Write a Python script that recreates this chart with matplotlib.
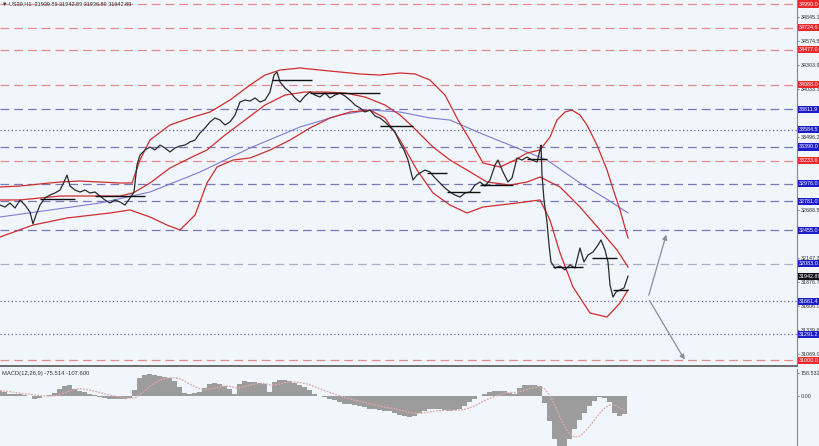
import matplotlib
matplotlib.use("Agg")
import matplotlib.pyplot as plt
from matplotlib.transforms import blended_transform_factory

plt.rcParams["font.family"] = ["Liberation Sans", "DejaVu Sans"]

# price path (hour index, price)
price_x = [0, 5, 10, 15, 20, 25, 30, 33, 36, 40, 45, 50, 55, 60, 64, 67, 70, 75, 80, 85,
           90, 95, 100, 105, 110, 115, 120, 125, 130, 134, 137, 140, 145, 150, 155, 160, 165, 170, 175, 180,
           185, 190, 195, 200, 205, 210, 215, 220, 225, 230, 235, 240, 245, 250, 255, 260, 265, 270, 274, 277,
           280, 285, 290, 295, 300, 305, 310, 315, 320, 325, 330, 335, 340, 345, 350, 355, 360, 365, 370, 375,
           380, 385, 390, 395, 400, 404, 408, 413, 417, 420, 425, 430, 435, 440, 445, 450, 455, 460, 465, 470,
           475, 480, 485, 490, 495, 498, 503, 508, 512, 517, 522, 527, 532, 537, 540, 541, 542, 544, 547, 549,
           551, 555, 560, 565, 570, 575, 580, 584, 588, 593, 598, 601, 605, 608, 610, 613, 616, 620, 624, 628]
price_y = [32739, 32717, 32762, 32706, 32795, 32739, 32661, 32527, 32627, 32739, 32818, 32851, 32874, 32907, 32997, 33075, 32952, 32907, 32885, 32907,
           32874, 32885, 32840, 32795, 32762, 32795, 32773, 32739, 32818, 32885, 33188, 33299, 33356, 33389, 33356, 33411, 33378, 33333, 33378, 33400,
           33411, 33445, 33467, 33546, 33602, 33669, 33714, 33691, 33636, 33669, 33747, 33893, 33915, 33904, 33938, 33893, 33915, 34005, 34195, 34229,
           34117, 34050, 34005, 33938, 33893, 33960, 34005, 33971, 33949, 33994, 33938, 33971, 33994, 33960, 33915, 33859, 33826, 33781, 33803, 33736,
           33714, 33669, 33613, 33557, 33434, 33355, 33243, 33019, 33075, 33098, 33131, 33109, 33042, 32986, 32930, 32885, 32851, 32829, 32874, 32885,
           32963, 32997, 32952, 33019, 33187, 33243, 33109, 32997, 33042, 33266, 33243, 33277, 33243, 33221, 33355, 33411, 33075, 32796, 32549, 32292,
           32101, 32034, 32056, 32012, 32068, 32034, 32258, 32101, 32179, 32213, 32291, 32348, 32235, 32101, 31843, 31709, 31765, 31787, 31810, 31942.89]

# bollinger bands
bb_up_x = [0, 20, 40, 60, 80, 100, 120, 132, 140, 150, 170, 190, 210, 230, 250, 265, 280, 300, 320, 340,
           360, 380, 400, 415, 430, 445, 458, 470, 483, 500, 515, 527, 540, 550, 557, 565, 572, 580, 587, 597,
           607, 615, 620, 628]
bb_up = [32941, 32952, 32975, 32997, 33008, 32997, 32986, 32986, 33244, 33468, 33636, 33714, 33781, 33915, 34083, 34195, 34251, 34274, 34251, 34229,
         34207, 34195, 34218, 34207, 34139, 33971, 33692, 33467, 33210, 33165, 33243, 33322, 33355, 33501, 33691, 33781, 33803, 33747, 33635, 33411,
         33131, 32852, 32683, 32370]
bb_mid_x = [0, 20, 40, 60, 80, 100, 120, 133, 150, 170, 190, 207, 225, 245, 265, 285, 305, 325, 345, 365,
            385, 400, 413, 433, 450, 467, 487, 510, 527, 540, 560, 580, 600, 617, 628]
bb_mid = [32796, 32796, 32818, 32840, 32840, 32840, 32840, 32874, 32986, 33154, 33266, 33356, 33523, 33691, 33859, 33971, 34005, 34005, 33994, 33949,
          33859, 33747, 33613, 33389, 33243, 33131, 32997, 32963, 32997, 33053, 32941, 32717, 32460, 32236, 32045]
bb_low_x = [0, 33, 67, 110, 130, 150, 167, 180, 195, 207, 217, 233, 250, 270, 290, 310, 330, 350, 370, 385,
            400, 417, 433, 450, 467, 483, 500, 517, 540, 550, 560, 573, 590, 607, 620, 628]
bb_low = [32381, 32515, 32594, 32650, 32684, 32605, 32515, 32460, 32627, 32986, 33165, 33243, 33266, 33355, 33467, 33602, 33714, 33781, 33803, 33714,
          33467, 33131, 32874, 32739, 32650, 32717, 32739, 32762, 32796, 32571, 32202, 31821, 31530, 31485, 31642, 31787]

# slow moving average
ma_x = [0, 50, 100, 150, 200, 250, 300, 340, 370, 400, 430, 450, 480, 517, 547, 580, 605, 628]
ma = [32605, 32683, 32762, 32885, 33109, 33378, 33613, 33747, 33803, 33781, 33714, 33691, 33546, 33378, 33243, 32986, 32818, 32650]

# short black pivot segments
seg_start = [40, 95, 272, 310, 380, 427, 447, 480, 527, 553, 592, 613]
seg_end = [75, 145, 312, 380, 413, 447, 480, 513, 547, 583, 617, 628]
seg_price = [32807, 32840, 34140, 33994, 33624, 33098, 32885, 32963, 33255, 32045, 32146, 31787]

# horizontal levels
levels = [34990.0, 34724.6, 34477.0, 34088.0, 33811.9, 33584.5, 33390.0, 33233.6,
          32976.0, 32781.0, 32455.0, 32083.0, 31661.4, 31291.2, 31000.0]
level_labels = ["34990.0", "34724.6", "34477.0", "34088.0", "33811.9", "33584.5", "33390.0", "33233.6",
                "32976.0", "32781.0", "32455.0", "32083.0", "31661.4", "31291.2", "31000.0"]
level_kind = ["r", "r", "r", "r", "b", "bd", "b", "r", "b", "b", "b", "g", "bd", "bd", "r"]

price_ticks = [34845.1, 34574.5, 34303.9, 34033.3, 33496.2, 32688.5, 32147.3, 31876.7, 31606.0, 31339.6, 31069.0]
last_price = 31942.89

# projection arrows
arrow_from = (648, 31698)
arrow_up = (667, 32437)
arrow_down = (686, 30981)

# MACD
macd_x = list(range(0, 630, 5))
macd_hist = [30, 25, 15, 10, 12, 8, 0, -20, -15, 0, 5, 20, 45, 70, 72, 50, 35, 25, 15, 5,
             -10, -18, -22, -25, -25, -22, -15, 40, 120, 145, 148, 145, 138, 130, 120, 105, 60, 20, 15, 18,
             25, 55, 80, 85, 80, 70, 45, 15, 80, 100, 98, 95, 90, 80, 25, 95, 110, 108, 100, 90,
             75, 60, 40, 15, 0, -10, -20, -30, -45, -55, -60, -65, -70, -80, -90, -95, -100, -105, -110, -120,
             -135, -145, -150, -140, -120, -105, -95, -90, -95, -100, -105, -100, -90, -70, -45, -20, 0, 15, 25, 35,
             35, 30, 20, 15, 55, 72, 75, 72, 65, -50, -180, -300, -360, -360, -300, -230, -172, -120, -75, -40,
             -10, -15, -45, -120, -145, -130]
macd_signal = [35, 32, 28, 22, 17, 13, 10, 5, 0, -3, -3, 0, 8, 20, 35, 45, 48, 45, 38, 30,
               22, 12, 5, -3, -10, -15, -18, -15, 5, 35, 65, 90, 108, 120, 125, 125, 118, 100, 80, 62,
               48, 42, 45, 55, 62, 67, 65, 55, 55, 65, 75, 82, 85, 85, 75, 75, 82, 90, 95, 95,
               92, 85, 75, 62, 48, 35, 22, 10, -2, -12, -22, -32, -40, -48, -56, -64, -72, -80, -86, -92,
               -100, -108, -116, -122, -124, -120, -114, -108, -104, -102, -102, -102, -100, -94, -84, -70, -52, -34, -18, -4,
               8, 18, 22, 22, 28, 38, 50, 58, 63, 45, 0, -70, -150, -220, -270, -290, -280, -250, -210, -165,
               -120, -85, -65, -65, -85, -105]

bg = "#f0f6fc"
fs = 3.9
fig = plt.figure(figsize=(8.2, 4.46), dpi=100, facecolor=bg)
ax = fig.add_axes([0, 80 / 446, 797 / 820, 366 / 446], facecolor=bg)
ax2 = fig.add_axes([0, 0, 797 / 820, 77 / 446], facecolor=bg)

styles = {
    "r": dict(color="#e88a8a", ls=(0, (7, 4)), lw=0.9),
    "b": dict(color="#7878b8", ls=(0, (7, 4)), lw=0.9),
    "bd": dict(color="#6a6ab0", ls=(0, (1, 2)), lw=0.9),
    "g": dict(color="#adadc8", ls=(0, (7, 4)), lw=0.9),
}
box_colors = {"r": "#e8282a", "b": "#1c1cc8", "bd": "#1c1cc8", "g": "#1c1cc8"}

for lv, kind in zip(levels, level_kind):
    ax.axhline(lv, zorder=1, **styles[kind])

ax.plot(ma_x, ma, color="#7c7cd4", lw=0.8, zorder=2)
ax.plot(bb_up_x, bb_up, color="#d22c2c", lw=0.9, zorder=3)
ax.plot(bb_mid_x, bb_mid, color="#d22c2c", lw=0.9, zorder=3)
ax.plot(bb_low_x, bb_low, color="#d22c2c", lw=0.9, zorder=3)
ax.plot(price_x, price_y, color="#2a2a2a", lw=0.9, zorder=4)
ax.hlines(seg_price, seg_start, seg_end, color="#111111", lw=1.0, zorder=5)

for end in (arrow_up, arrow_down):
    ax.annotate("", xy=end, xytext=arrow_from,
                arrowprops=dict(arrowstyle="-|>", color="#8c8c9c", lw=0.9, mutation_scale=7))

ax.set_xlim(0, 797)
ax.set_ylim(30936.3, 35035.5)
ax.set_xticks([])
ax.yaxis.tick_right()
ax.set_yticks(price_ticks)
ax.set_yticklabels([f"{v:.1f}" for v in price_ticks], fontsize=fs, color="#333333")
ax.tick_params(axis="y", length=1.5, width=0.5, pad=1.0, colors="#555555", labelcolor="#333333")
for s in ["top", "left"]:
    ax.spines[s].set_visible(False)
ax.spines["right"].set_color("#888888")
ax.spines["bottom"].set_color("#555555")
ax.spines["bottom"].set_linewidth(1.2)

tr = blended_transform_factory(ax.transAxes, ax.transData)
for lv, lab, kind in zip(levels, level_labels, level_kind):
    ax.text(1.002, lv, lab, transform=tr, fontsize=fs, color="white", va="center", ha="left",
            bbox=dict(boxstyle="square,pad=0.2", fc=box_colors[kind], ec="none"), zorder=10, clip_on=False)
ax.text(1.002, last_price, f"{last_price:.2f}", transform=tr, fontsize=fs, color="white", va="center", ha="left",
        bbox=dict(boxstyle="square,pad=0.2", fc="#111111", ec="none"), zorder=10, clip_on=False)

ax.text(0.003, 0.997, "\u25bc US30,H1  31939.89 31942.89 31936.89 31942.89", transform=ax.transAxes,
        fontsize=4.0, color="#333333", va="top", ha="left")

# MACD panel
ax2.bar(macd_x, macd_hist, width=5, color="#9c9c9c", linewidth=0, zorder=2)
ax2.plot(macd_x, macd_signal, color="#e2a8a8", lw=0.9, ls=(0, (1.5, 1)), zorder=3)
ax2.set_xlim(0, 797)
ax2.set_ylim(-351, 186)
ax2.set_xticks([])
ax2.yaxis.tick_right()
ax2.set_yticks([158.532, 0])
ax2.set_yticklabels(["158.532", "0.00"], fontsize=fs, color="#333333")
ax2.tick_params(axis="y", length=1.5, width=0.5, pad=1.0, colors="#555555", labelcolor="#333333")
for s in ["top", "left", "bottom"]:
    ax2.spines[s].set_visible(False)
ax2.spines["right"].set_color("#888888")
ax2.text(0.003, 0.97, "MACD(12,26,9) -75.514 -107.600", transform=ax2.transAxes,
         fontsize=4.2, color="#333333", va="top", ha="left")

fig.savefig("out.png", dpi=100, facecolor=bg)
